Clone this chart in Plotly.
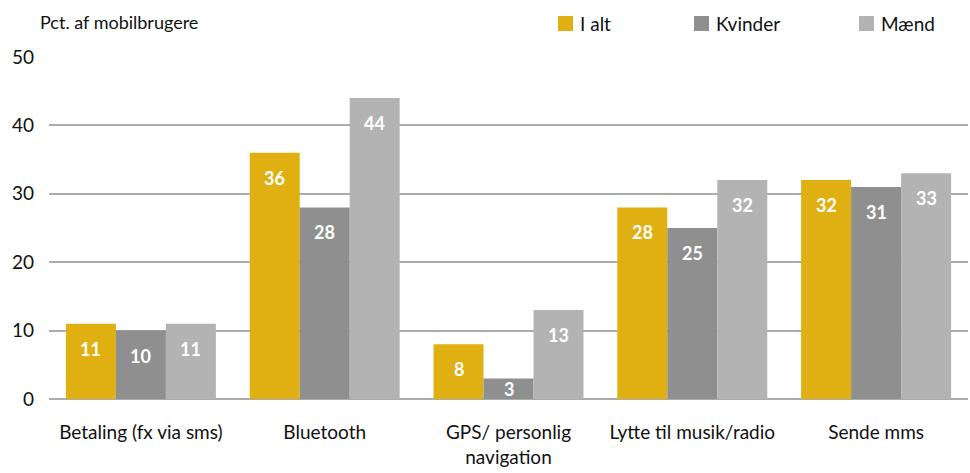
import plotly.graph_objects as go

categories = ["Betaling (fx via sms)", "Bluetooth", "GPS/ personlig<br>navigation",
              "Lytte til musik/radio", "Sende mms"]
i_alt = [11, 36, 8, 28, 32]
kvinder = [10, 28, 3, 25, 31]
maend = [11, 44, 13, 32, 33]
series_names = ["I alt", "Kvinder", "Mænd"]
colors = ["#E0B012", "#8F8F8F", "#B3B3B3"]
y_ticks = [0, 10, 20, 30, 40, 50]

W, H = 970, 473
ML, MR, MT, MB = 49, 2, 57, 74
PW, PH = W - ML - MR, H - MT - MB
FONT = "Lato, 'Liberation Sans', Arial, sans-serif"


def px_x(x):
    return (x - ML) / PW


def px_y(y):
    return (H - MB - y) / PH


fig = go.Figure()
for name, vals, col in zip(series_names, [i_alt, kvinder, maend], colors):
    fig.add_trace(go.Bar(x=categories, y=vals, name=name, marker_color=col,
                         marker_line_width=0, showlegend=False))

# value labels inside each bar, near the top (centred in very short bars)
units_per_px = 50 / PH
offset = 25 * units_per_px
annotations = []
for k, vals in enumerate([i_alt, kvinder, maend]):
    for ci, v in enumerate(vals):
        annotations.append(dict(
            x=ci, y=max(v - offset, v / 2), xref="x", yref="y",
            xshift=(k - 1) * (PW / len(categories)) * (1 - 0.184) / 3,
            text=f"<b>{v}</b>", showarrow=False, yanchor="middle",
            font=dict(family=FONT, size=18, color="white")))

# axis title
annotations.append(dict(x=px_x(38), y=px_y(22), xref="paper", yref="paper",
                        text="Pct. af mobilbrugere", showarrow=False,
                        xanchor="left", yanchor="middle",
                        font=dict(family=FONT, size=18, color="#111111")))

# legend
shapes = []
legend_sq = [558, 694, 859]
for name, col, sx in zip(series_names, colors, legend_sq):
    shapes.append(dict(type="rect", xref="paper", yref="paper",
                       x0=px_x(sx), x1=px_x(sx + 15), y0=px_y(31), y1=px_y(16),
                       fillcolor=col, line_width=0))
    annotations.append(dict(x=px_x(sx + 20), y=px_y(24), xref="paper", yref="paper",
                            text=name, showarrow=False, xanchor="left",
                            yanchor="middle",
                            font=dict(family=FONT, size=19, color="#111111")))

fig.update_layout(
    width=W, height=H,
    margin=dict(l=ML, r=MR, t=MT, b=MB),
    paper_bgcolor="white", plot_bgcolor="white",
    barmode="group", bargap=0.184, bargroupgap=0,
    font=dict(family=FONT, size=19, color="#111111"),
    annotations=annotations, shapes=shapes,
    showlegend=False,
)
fig.update_xaxes(showgrid=False, showline=False, ticks="", ticklabelstandoff=20,
                 tickfont=dict(family=FONT, size=19, color="#111111"))
fig.update_yaxes(range=[0, 50], tickvals=y_ticks, showgrid=True,
                 gridcolor="#ABABAB", gridwidth=2, zeroline=True,
                 zerolinecolor="#ABABAB", zerolinewidth=2, showline=False,
                 ticks="", ticklabelstandoff=14,
                 tickfont=dict(family=FONT, size=19, color="#111111"))

fig.write_html("out.html")
